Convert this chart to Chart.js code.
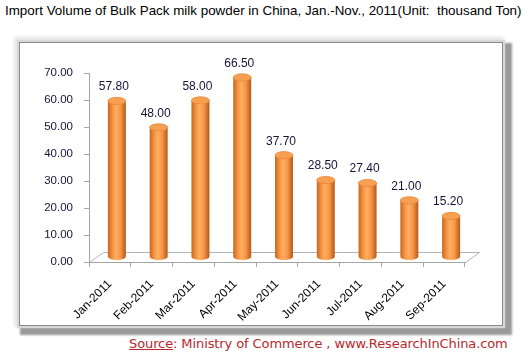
<!DOCTYPE html>
<html><head><meta charset="utf-8">
<script src="https://cdn.jsdelivr.net/npm/chart.js@4.4.0/dist/chart.umd.min.js"></script>
<style>
html,body{margin:0;padding:0;background:#fff;width:528px;height:355px;overflow:hidden;font-family:"Liberation Sans",Arial,sans-serif;}
#title{position:absolute;left:5px;top:3px;font-size:13.4px;color:#000;white-space:nowrap;}
#frame{position:absolute;left:19px;top:42px;width:482px;height:282px;background:#fff;border:1px solid #8a8a8a;
 box-shadow:0 0 0 2px #d8d8d8, -2px -2px 3px 3px #e6e6e6, 5px 5px 2px 4px #9a9a9a;}
#source{position:absolute;left:129px;top:336px;font-size:13px;color:#b8282c;white-space:nowrap;font-family:"DejaVu Sans",sans-serif;letter-spacing:-0.1px;}
#source u{text-decoration:underline;}
canvas{position:absolute;left:0;top:0;}
</style></head>
<body>
<div id="title">Import Volume of Bulk Pack milk powder in China, Jan.-Nov., 2011(Unit:&nbsp; thousand Ton)</div>
<div id="frame"></div>
<div id="source"><u>Source</u>: Ministry of Commerce , www.ResearchInChina.com</div>
<canvas id="c" width="528" height="355"></canvas>
<script>
const categories = ["Jan-2011","Feb-2011","Mar-2011","Apr-2011","May-2011","Jun-2011","Jul-2011","Aug-2011","Sep-2011"];
const importVolume = [57.80, 48.00, 58.00, 66.50, 37.70, 28.50, 27.40, 21.00, 15.20];
const yTicks = [0,10,20,30,40,50,60,70];

const DX = 14, DY = -10; // 3D depth
const floorPlugin = {
  id:'floor',
  beforeDatasetsDraw(chart){
    const {ctx, chartArea:a} = chart;
    ctx.save();
    ctx.strokeStyle = '#b4b4b4'; ctx.lineWidth = 1;
    ctx.beginPath();
    ctx.moveTo(a.left+0.5, a.bottom+0.5);
    ctx.lineTo(a.left+DX+0.5, a.bottom+DY+0.5);
    ctx.lineTo(a.right+DX+0.5, a.bottom+DY+0.5);
    ctx.lineTo(a.right+0.5, a.bottom+0.5);
    ctx.stroke();
    ctx.restore();
  },
  afterDatasetsDraw(chart){
    const {ctx} = chart;
    const meta = chart.getDatasetMeta(0);
    ctx.save();
    meta.data.forEach((bar, i) => {
      const w = bar.width;
      const cx = bar.x + DX/2, top = bar.y + DY/2, base = bar.base + DY/2;
      const l = cx - w/2, r = cx + w/2, ry = w*0.2;
      const g = ctx.createLinearGradient(l,0,r,0);
      g.addColorStop(0,'#c8651f');
      g.addColorStop(0.25,'#f59440');
      g.addColorStop(0.45,'#ffae62');
      g.addColorStop(0.7,'#f79646');
      g.addColorStop(1,'#b65719');
      ctx.fillStyle = g;
      ctx.beginPath();
      ctx.moveTo(l, top);
      ctx.lineTo(l, base);
      ctx.ellipse(cx, base, w/2, ry, 0, Math.PI, 0, true);
      ctx.lineTo(r, top);
      ctx.closePath();
      ctx.fill();
      ctx.beginPath();
      ctx.ellipse(cx, top, w/2, ry, 0, 0, Math.PI*2);
      ctx.fillStyle = '#f8a052';
      ctx.fill();
      ctx.strokeStyle = '#e9873a'; ctx.lineWidth = 0.8;
      ctx.stroke();
      ctx.fillStyle = '#14143a';
      ctx.font = '12px "Liberation Sans", Arial, sans-serif';
      ctx.textAlign = 'center'; ctx.textBaseline = 'alphabetic';
      ctx.fillText(importVolume[i].toFixed(2), cx - 3, top - ry - 7);
    });
    ctx.restore();
  }
};

new Chart(document.getElementById('c'), {
  type:'bar',
  data:{labels:categories, datasets:[{data:importVolume, backgroundColor:'rgba(0,0,0,0)', barPercentage:0.43, categoryPercentage:1}]},
  options:{
    responsive:false, animation:false,
    layout:{padding:{top:73, right:63, left:0, bottom:0}},
    plugins:{legend:{display:false}, tooltip:{enabled:false}},
    scales:{
      x:{
        grid:{display:true, drawOnChartArea:false, offset:true, tickLength:5, color:'#a6a6a6'},
        border:{display:true, color:'#a6a6a6'},
        ticks:{maxRotation:45, minRotation:45, color:'#000', font:{size:12, family:'"Liberation Sans", Arial, sans-serif'}, padding:10},
        afterFit(s){ s.height = 355-262; }
      },
      y:{
        min:0, max:70,
        afterBuildTicks(s){ s.ticks = yTicks.map(v=>({value:v})); },
        grid:{display:true, drawOnChartArea:false, tickLength:5, color:'#a6a6a6'},
        border:{display:true, color:'#a6a6a6'},
        ticks:{color:'#14143a', padding:11, font:{size:11.5, family:'"Liberation Sans", Arial, sans-serif'}, callback:v=>Number(v).toFixed(2)},
        afterFit(s){ s.width = 89; }
      }
    }
  },
  plugins:[floorPlugin]
});
</script>
</body></html>
